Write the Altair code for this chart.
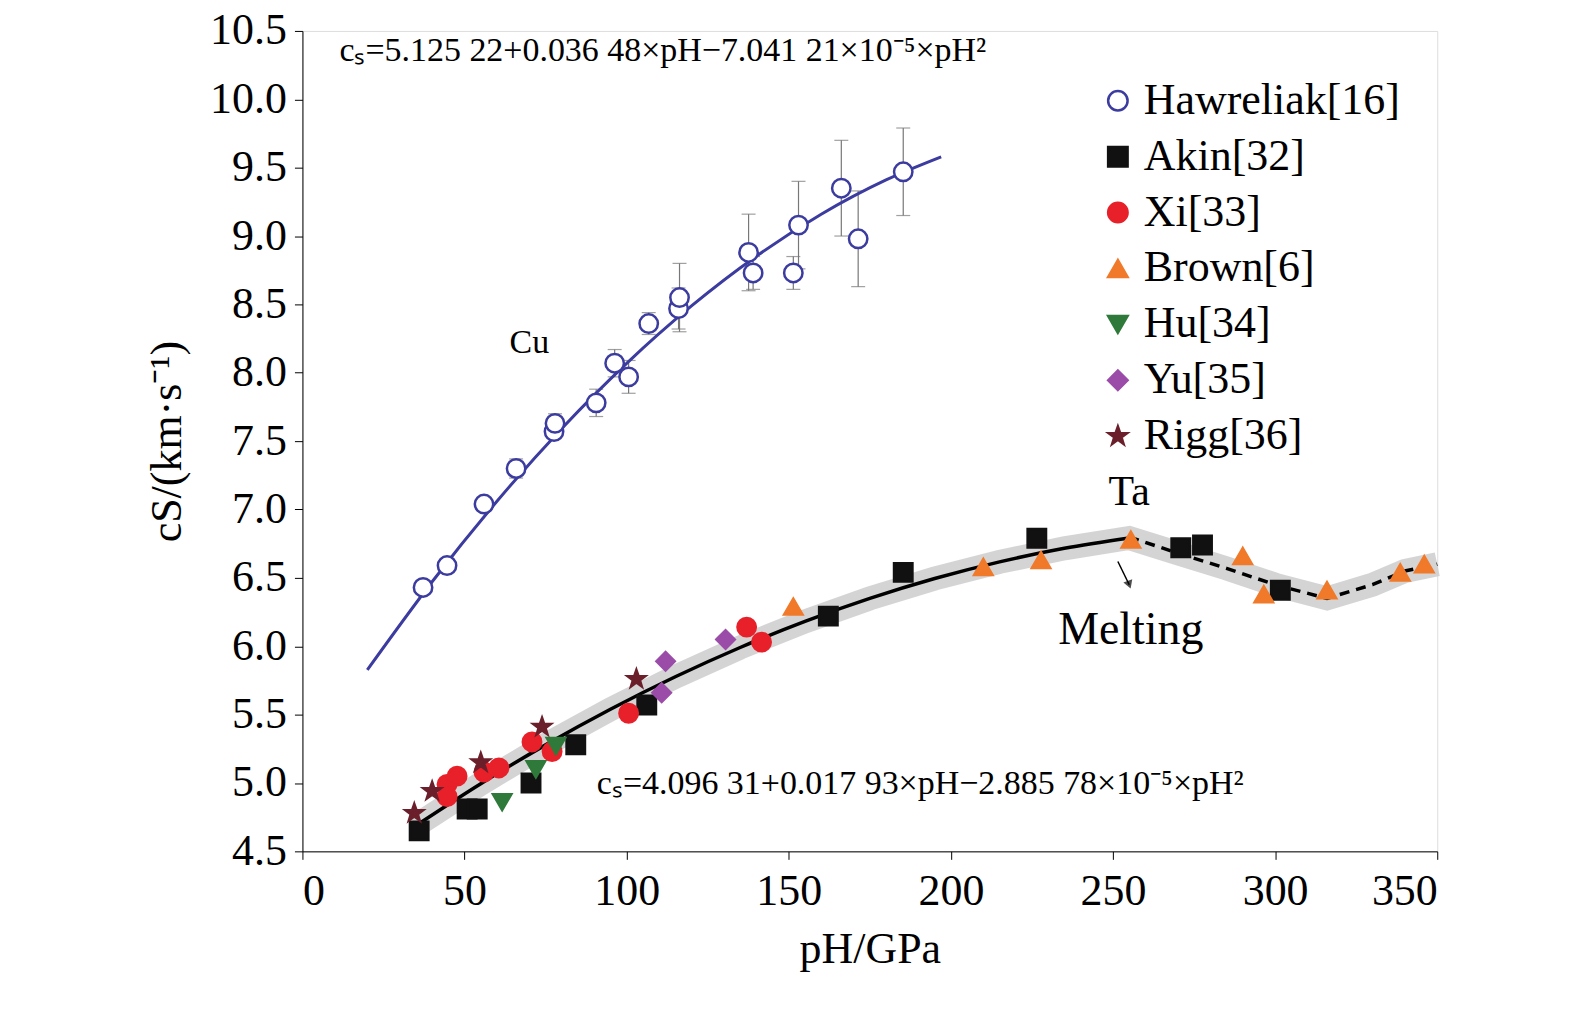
import altair as alt
import pandas as pd

FONT = "Liberation Serif"

cu_p = [37.2, 44.6, 56.0, 65.9, 77.6, 77.9, 90.6, 96.3, 100.6, 106.8, 116.0, 116.3, 137.6, 139.0, 151.4, 153.0, 166.2, 171.4, 185.3]
cu_c = [6.43, 6.59, 7.04, 7.30, 7.57, 7.63, 7.78, 8.07, 7.97, 8.36, 8.47, 8.55, 8.88, 8.73, 8.73, 9.08, 9.35, 8.98, 9.47]
cu_err = [0.03, 0.03, 0.03, 0.07, 0.05, 0.07, 0.1, 0.1, 0.12, 0.08, 0.15, 0.25, 0.28, 0.12, 0.12, 0.32, 0.35, 0.35, 0.32]

akin_p = [36.0, 50.8, 53.9, 70.5, 84.3, 106.2, 162.2, 185.3, 226.5, 270.9, 277.6, 301.6]
akin_c = [4.65, 4.81, 4.81, 5.00, 5.28, 5.57, 6.22, 6.54, 6.79, 6.72, 6.74, 6.41]
xi_p = [44.6, 47.7, 44.6, 56.0, 60.6, 70.8, 77.0, 100.6, 137.0, 141.6]
xi_c = [4.99, 5.05, 4.90, 5.08, 5.11, 5.30, 5.23, 5.51, 6.14, 6.03]
brown_p = [151.4, 210.0, 227.8, 255.5, 290.0, 296.5, 316.0, 338.6, 346.0]
brown_c = [6.29, 6.58, 6.63, 6.78, 6.66, 6.38, 6.41, 6.54, 6.60]
hu_p = [61.6, 72.0, 78.2]
hu_c = [4.86, 5.10, 5.27]
yu_p = [112.0, 110.8, 130.5]
yu_c = [5.89, 5.66, 6.05]
rigg_p = [34.5, 40.0, 55.0, 73.9, 103.0]
rigg_c = [4.78, 4.94, 5.15, 5.41, 5.76]

cu_fit_p = [20, 40, 60, 80, 100, 120, 140, 160, 180, 197]
ta_fit_p = [35, 55, 75, 95, 115, 135, 155, 175, 195, 215, 235, 255]
ta_melt_p = [255, 270, 285, 300, 316, 330, 340, 350]
ta_melt_c = [6.80, 6.68, 6.57, 6.45, 6.35, 6.45, 6.55, 6.60]

labels = ["Hawreliak[16]", "Akin[32]", "Xi[33]", "Brown[6]", "Hu[34]", "Yu[35]", "Rigg[36]"]
shapes = ["circle", "square", "circle", "triangle-up", "triangle-down", "diamond",
          "M0,-1L0.24,-0.31L0.95,-0.31L0.38,0.12L0.59,0.81L0,0.38L-0.59,0.81L-0.38,0.12L-0.95,-0.31L-0.24,-0.31Z"]
fills = ["white", "#111111", "#e8202a", "#f07a2a", "#2f7a3a", "#9a4ca8", "#6a1f2a"]
strokes = ["#3b3ba0", "#111111", "#e8202a", "#f07a2a", "#2f7a3a", "#9a4ca8", "#6a1f2a"]

rows = []
for lab, ps, cs in [(labels[0], cu_p, cu_c), (labels[1], akin_p, akin_c), (labels[2], xi_p, xi_c),
                    (labels[3], brown_p, brown_c), (labels[4], hu_p, hu_c), (labels[5], yu_p, yu_c),
                    (labels[6], rigg_p, rigg_c)]:
    for p, c in zip(ps, cs):
        rows.append({"p": p, "c": c, "s": lab})
pts = pd.DataFrame(rows)

cu_fit = pd.DataFrame({"p": cu_fit_p, "c": [5.12522 + 0.03648 * p - 7.04121e-5 * p * p for p in cu_fit_p]})
ta_fit = pd.DataFrame({"p": ta_fit_p, "c": [4.09631 + 0.01793 * p - 2.88578e-5 * p * p for p in ta_fit_p]})
ta_melt = pd.DataFrame({"p": ta_melt_p, "c": ta_melt_c})
band = pd.concat([ta_fit, ta_melt.iloc[1:]], ignore_index=True)
err = pd.DataFrame({"p": cu_p, "lo": [c - e for c, e in zip(cu_c, cu_err)], "hi": [c + e for c, e in zip(cu_c, cu_err)]})

xs = alt.Scale(domain=[0, 350], nice=False)
ys = alt.Scale(domain=[4.5, 10.5], nice=False)
X = alt.X("p:Q", scale=xs, title="pH/GPa",
          axis=alt.Axis(values=list(range(0, 351, 50)), labelFontSize=44, titleFontSize=44,
                        labelFont=FONT, titleFont=FONT, titleFontWeight="normal", grid=False,
                        tickSize=8, labelPadding=10, titlePadding=14,
                        domainColor="black", tickColor="black", labelColor="black", titleColor="black"))
Y = alt.Y("c:Q", scale=ys, title="cS/(km·s⁻¹)",
          axis=alt.Axis(values=[4.5 + 0.5 * i for i in range(13)], format=".1f", labelFontSize=44,
                        titleFontSize=44, labelFont=FONT, titleFont=FONT, titleFontWeight="normal",
                        grid=False, tickSize=8, labelPadding=8, titlePadding=20,
                        domainColor="black", tickColor="black", labelColor="black", titleColor="black"))

bandl = alt.Chart(band).mark_line(color="#cfcfcf", strokeWidth=24, opacity=0.9).encode(x=X, y=Y)
cul = alt.Chart(cu_fit).mark_line(color="#3b3ba0", strokeWidth=3, interpolate="monotone").encode(x=X, y=Y)
tal = alt.Chart(ta_fit).mark_line(color="black", strokeWidth=3.5, interpolate="monotone").encode(x=X, y=Y)
tam = alt.Chart(ta_melt).mark_line(color="black", strokeWidth=3.5, strokeDash=[10, 7]).encode(x=X, y=Y)
errr = alt.Chart(err).mark_rule(color="#777777", strokeWidth=1.2).encode(x="p:Q", y="lo:Q", y2="hi:Q")
capl = alt.Chart(err).mark_tick(color="#777777", size=14, thickness=1.2, orient="horizontal").encode(x="p:Q", y="lo:Q")
caph = alt.Chart(err).mark_tick(color="#777777", size=14, thickness=1.2, orient="horizontal").encode(x="p:Q", y="hi:Q")

leg = alt.Legend(title=None, orient="none", legendX=795, legendY=48, labelFont=FONT, labelFontSize=44,
                 symbolSize=380, rowPadding=12, labelLimit=500, symbolStrokeWidth=2.5, labelColor="black")
points = alt.Chart(pts).mark_point(filled=False, size=340, strokeWidth=2.5, opacity=1).encode(
    x=X, y=Y,
    shape=alt.Shape("s:N", scale=alt.Scale(domain=labels, range=shapes), legend=leg),
    fill=alt.Fill("s:N", scale=alt.Scale(domain=labels, range=fills), legend=leg),
    stroke=alt.Stroke("s:N", scale=alt.Scale(domain=labels, range=strokes), legend=leg),
)

txt = pd.DataFrame({
    "p": [11.4, 90.8, 70.0, 255.0, 255.5],
    "c": [10.35, 4.99, 8.22, 7.13, 6.12],
    "t": ["cₛ=5.125 22+0.036 48×pH−7.041 21×10⁻⁵×pH²", "cₛ=4.096 31+0.017 93×pH−2.885 78×10⁻⁵×pH²", "Cu", "Ta", "Melting"],
    "fs": [34, 34, 34, 42, 46],
    "al": ["left", "left", "center", "center", "center"],
})
texts = alt.layer(*[
    alt.Chart(txt.iloc[[i]]).mark_text(font=FONT, fontSize=int(txt.fs[i]), align=txt.al[i], baseline="middle", color="black")
    .encode(x="p:Q", y="c:Q", text="t:N") for i in range(len(txt))
])
arrow_df = pd.DataFrame({"p": [251.5], "c": [6.62], "p2": [255.0], "c2": [6.45]})
arrow = alt.Chart(arrow_df).mark_rule(color="black", strokeWidth=1.5).encode(x="p:Q", y="c:Q", x2="p2:Q", y2="c2:Q")
head = alt.Chart(pd.DataFrame({"p": [255.0], "c": [6.45]})).mark_point(shape="triangle-down", filled=True, color="black", size=90, angle=340).encode(x="p:Q", y="c:Q")

chart = alt.layer(bandl, errr, capl, caph, cul, tal, tam, points, texts, arrow, head).properties(
    width=1137, height=822, autosize="none",
    padding={"left": 295, "top": 22, "right": 130, "bottom": 170},
).configure_view(stroke="black", strokeWidth=2).configure(background="white")

chart.save("out.html", embed_options={"renderer": "svg", "actions": False})
